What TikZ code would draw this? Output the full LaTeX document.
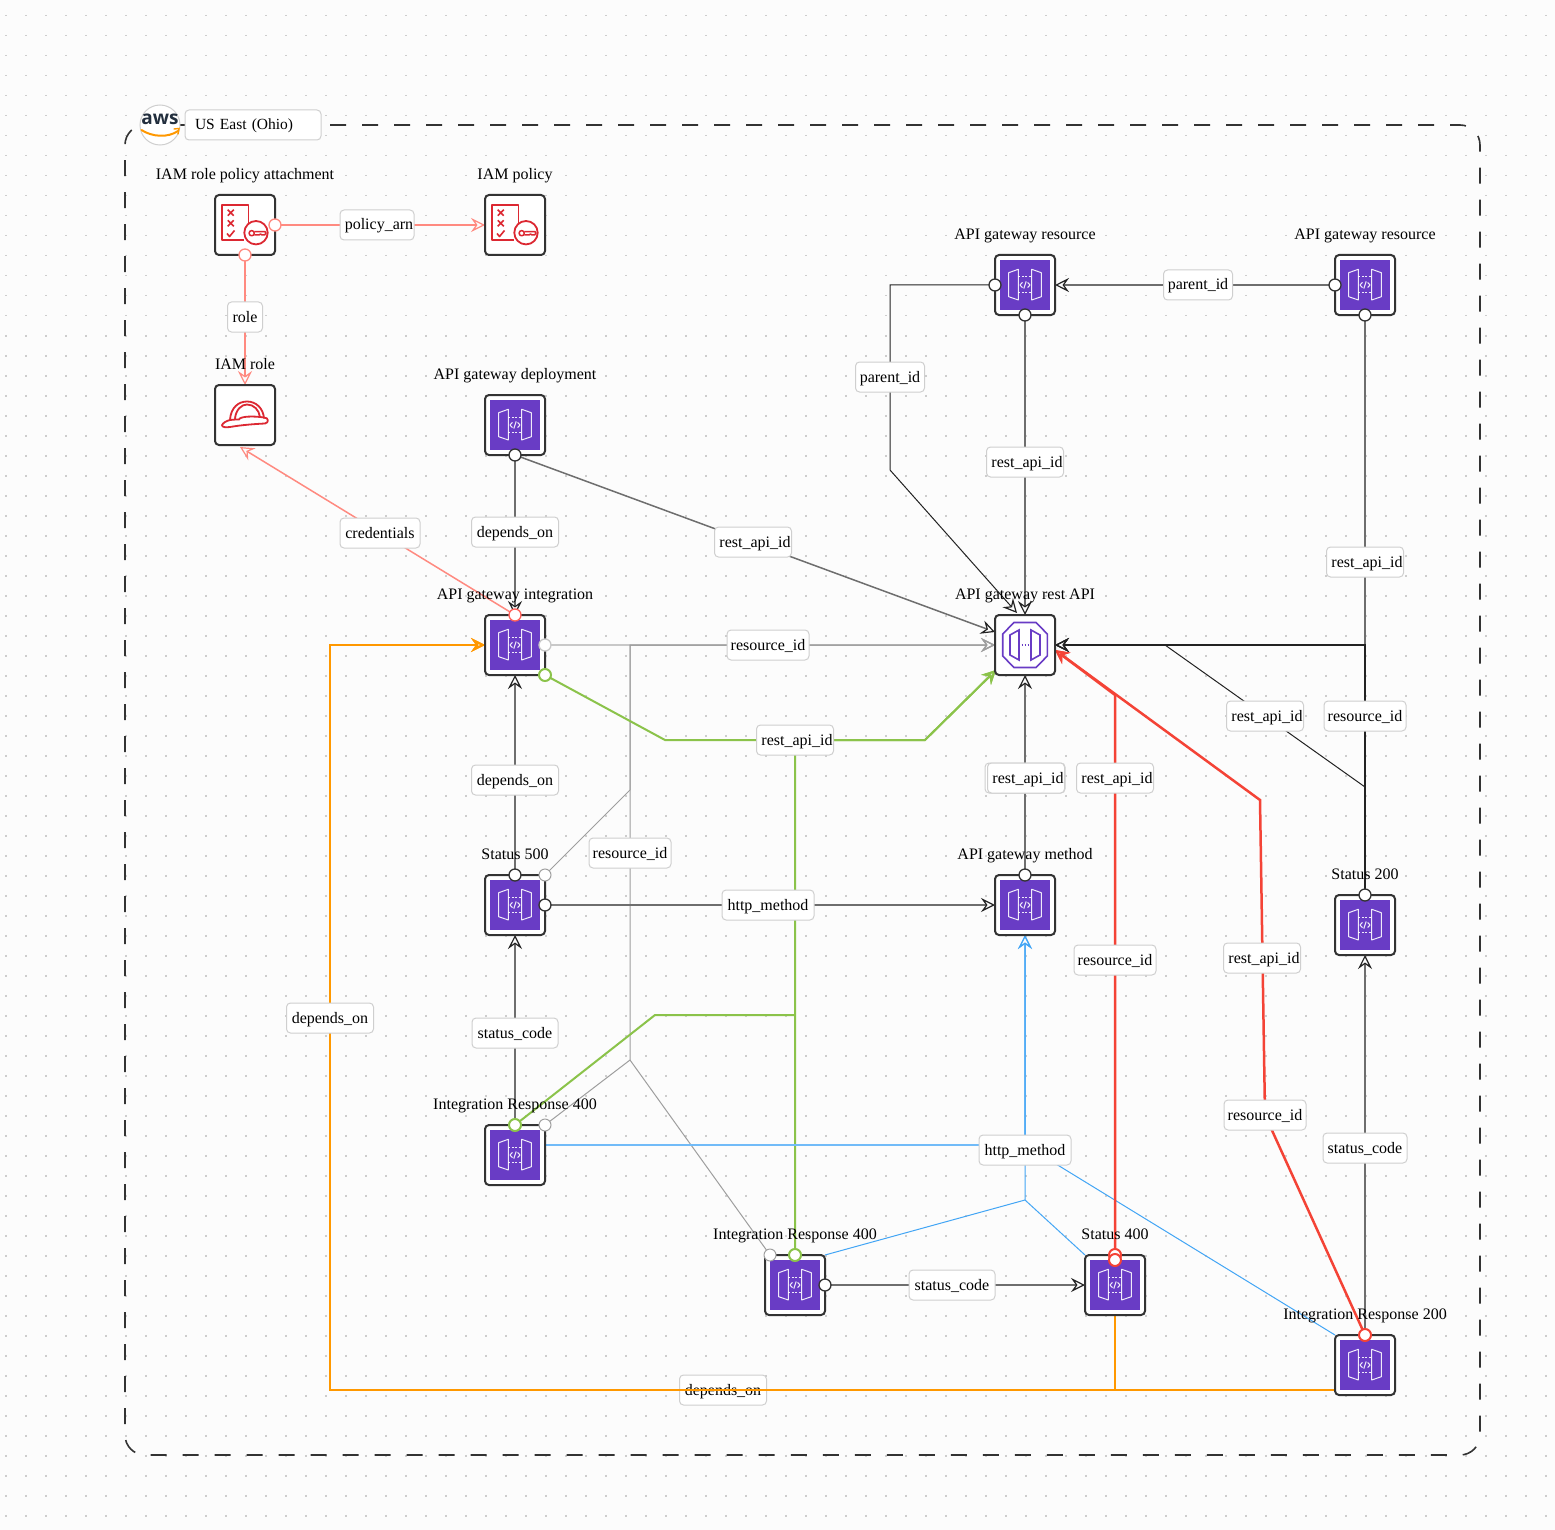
\documentclass[tikz,border=0pt]{standalone}
\usepackage{fontspec}
\setmainfont{Liberation Serif}
\newfontfamily\awsfont{Open Sans}
\usetikzlibrary{arrows.meta}
\pgfdeclarelayer{dots}
\pgfdeclarelayer{edges}
\pgfsetlayers{dots,edges,main}
\definecolor{bgc}{HTML}{FCFCFC}
\definecolor{dotc}{HTML}{CDCDCD}
\definecolor{boxc}{HTML}{333333}
\definecolor{lblc}{HTML}{CFCFCF}
\definecolor{apic}{HTML}{693CC5}
\definecolor{iamc}{HTML}{DC2832}
\definecolor{salm}{HTML}{FF8A80}
\definecolor{redc}{HTML}{F44336}
\definecolor{grnc}{HTML}{8BC34A}
\definecolor{orgc}{HTML}{FF9800}
\definecolor{bluc}{HTML}{42A5F5}
\definecolor{dgry}{HTML}{6E6E6E}
\definecolor{mgry}{HTML}{9E9E9E}
\definecolor{lgry}{HTML}{C8C8C8}
\definecolor{blkc}{HTML}{222222}
\definecolor{awsc}{HTML}{232F3E}
\tikzset{
  svc/.style={draw=boxc,line width=2pt,fill=white,rounded corners=4pt,minimum size=60pt,inner sep=0pt,outer sep=0pt},
  lbase/.style={draw=lblc,line width=1pt,fill=white,rounded corners=4pt,minimum height=30pt,inner xsep=0pt,inner ysep=0pt,outer sep=0pt,text height=13pt,text depth=3pt,font=\fontsize{16}{18}\selectfont,text=black},
  lbl/.style={lbase,minimum width=#1pt},
  lblk/.style={lbase,minimum width=#1pt,execute at begin node={\kern4pt}},
  capt/.style={inner sep=0pt,text height=14pt,text depth=3pt,font=\fontsize{16}{18}\selectfont,text=black},
  port/.style={circle,fill=white,draw=#1,line width=1.3pt,minimum size=12pt,inner sep=0pt,outer sep=0pt},
  tip/.style={-{Stealth[open,length=14pt,width=14pt,inset=5pt,line width=#1]}},
  tipk/.style={-{Stealth[open,length=14pt,width=14pt,inset=5pt,line width=1.2pt,color=blkc]}},
  esalm/.style={draw=salm,line width=1.5pt,tip=1.2pt},
  edark/.style={draw=dgry,line width=1.5pt,tipk},
  eblack/.style={draw=blkc,line width=1pt,tipk},
  eblackb/.style={draw=blkc,line width=1.6pt,tipk},
  elight/.style={draw=lgry,line width=1.5pt,tip=1.2pt},
  egrey/.style={draw=mgry,line width=1pt,tip=1.2pt},
  egreen/.style={draw=grnc,line width=2pt,tip=2pt},
  eblue/.style={draw=bluc,line width=1pt,tip=1.2pt},
  ered/.style={draw=redc,line width=2.5pt,tip=2.2pt},
  eorange/.style={draw=orgc,line width=2pt,tip=2pt},
  apigw/.pic={
    \fill[apic] (-25,-25) rectangle (25,25);
    \begin{scope}[draw=white,line width=1pt,line join=round,opacity=.9]
      \draw (-16.3,-12.3) -- (-6.7,-15.7) -- (-6.7,15) -- (-16.3,11.7) -- cycle;
      \draw (6.7,-15.7) -- (16.3,-12.3) -- (16.3,11.7) -- (6.7,15) -- cycle;
      \draw[dash pattern=on 2pt off 1.5pt] (-6.7,-8) -- (6.7,-8) (-6.7,7.5) -- (6.7,7.5);
      \draw (-2.6,-2.6) -- (-5,0) -- (-2.6,2.6) (2.6,-2.6) -- (5,0) -- (2.6,2.6) (1.2,-3.6) -- (-1.2,3.6);
    \end{scope}
  },
  iampol/.pic={
    \begin{scope}[draw=iamc,line width=1.6pt,line join=round]
      \draw (3.3,0) -- (3.3,-19.7) -- (-23,-19.7) -- (-23,15) -- (-1,15);
      \draw (-17.3,-15.3) -- (-11.3,-9.3) (-11.3,-15.3) -- (-17.3,-9.3);
      \draw (-17.3,-4.7) -- (-11.3,1.3) (-11.3,-4.7) -- (-17.3,1.3);
      \draw (-18,8.5) -- (-15.5,11.5) -- (-10.5,5.5);
      \draw[fill=white,line width=1.8pt] (11,7.7) circle (11.7);
      \draw[line width=1.5pt] (6.7,8.2) circle (2.6);
      \draw[line width=1.5pt] (9.3,6.6) -- (20,6.6) -- (21,8.3) -- (19.5,10) -- (17,10) -- (15.5,9) -- (14,10) -- (9.3,10);
    \end{scope}
  },
  iamrol/.pic={
    \begin{scope}[draw=iamc,line width=1.8pt,line join=round,line cap=round]
      \draw (-15,4.5) .. controls (-14,-8) and (-6,-13.5) .. (2,-13.5) .. controls (11,-13.5) and (18,-7) .. (19,3);
      \draw (-10,3.5) .. controls (-9,-6) and (-3,-10.5) .. (2,-10.5) .. controls (9,-10.5) and (14,-5) .. (15,2);
      \draw (-15,5) .. controls (-19,6) and (-22,8) .. (-23,10) .. controls (-23,12.5) and (-19,12.5) .. (-15,12)
         .. controls (-4,10) and (10,9) .. (20,8.5) .. controls (24,8) and (24,2.5) .. (19,2.5) .. controls (10,1) and (-5,1) .. (-6,4.5) .. controls (-8,4.5) and (-12,4.5) .. (-15,5);
    \end{scope}
  },
  restapi/.pic={
    \begin{scope}[draw=apic,line width=1.6pt,line join=miter]
      \draw (-11,-22.5) -- (11,-22.5) -- (22.3,-11) -- (22.3,11) -- (11,22.5) -- (-11,22.5) -- (-22.3,11) -- (-22.3,-11) -- cycle;
      \draw (-15,-10) -- (-6,-15) -- (-6,15) -- (-15,10) -- cycle;
      \draw (6,-15) -- (15,-10) -- (15,10) -- (6,15) -- cycle;
      \draw[line width=1.8pt,dash pattern=on 1.8pt off 1.2pt] (-3.4,0) -- (3.6,0);
    \end{scope}
  }
}
\begin{document}
\begin{tikzpicture}[x=1pt,y=-1pt]
\useasboundingbox (0,0) rectangle (1555,1530);
\begin{pgfonlayer}{dots}
  \fill[bgc] (0,0) rectangle (1555,1530);
  \foreach \i in {0,...,77} {
    \draw[dotc,line width=1.6pt,dash pattern=on 1.6pt off 18.4pt] ({5.7+20*\i},14.9) -- ({5.7+20*\i},1530);
  }
\end{pgfonlayer}

% region frame
\draw[draw=boxc,line width=1.6pt,rounded corners=20pt,dash pattern=on 16pt off 16pt,dash phase=7pt]
  (145,125) -- (1480,125) -- (1480,1455) -- (125,1455) -- (125,125) -- (145,125);
\draw[draw=boxc,line width=1.2pt] (181,125) -- (186,125);
\node[circle,draw=lblc,line width=1pt,fill=white,minimum size=40pt,inner sep=0pt] (awslogo) at (160,125) {};
\node[inner sep=0pt,text=awsc,font=\awsfont\bfseries\fontsize{19}{19}\selectfont] (awstext) at (160,119) {aws};
\draw[orgc,line width=2pt,line cap=round] (141.5,130) .. controls (152,137) and (168,138) .. (178,131);
\draw[orgc,line width=1.4pt,line cap=round] (174,129) -- (179,128.5) -- (178,134);
\node[lbase,minimum width=136pt,text width=116pt,align=left,font=\fontsize{15.5}{18}\selectfont] (region) at (253,125) {US East (Ohio)};

% services
\node[svc] (policyatt) at (245,225) {};
\node[svc] (iampolicy) at (515,225) {};
\node[svc] (iamrole) at (245,415) {};
\node[svc] (deploy) at (515,425) {};
\node[svc] (integ) at (515,645) {};
\node[svc] (rest) at (1025,645) {};
\node[svc] (res1) at (1025,285) {};
\node[svc] (res2) at (1365,285) {};
\node[svc] (st500) at (515,905) {};
\node[svc] (method) at (1025,905) {};
\node[svc] (st200) at (1365,925) {};
\node[svc] (irA) at (515,1155) {};
\node[svc] (irB) at (795,1285) {};
\node[svc] (st400) at (1115,1285) {};
\node[svc] (ir200) at (1365,1365) {};

\pic at (policyatt) {iampol};
\pic at (iampolicy) {iampol};
\pic at (iamrole) {iamrol};
\pic at (rest) {restapi};
\foreach \n in {deploy,integ,res1,res2,st500,method,st200,irA,irB,st400,ir200} { \pic at (\n) {apigw}; }

% ports
\node[port=salm] (paR) at (275,225) {};
\node[port=salm] (paB) at (245,255) {};
\node[port=boxc] (dpB) at (515,455) {};
\node[port=salm!70!red] (igT) at (515,615) {};
\node[port=lgry] (igR) at (545,645) {};
\node[port=grnc,line width=2pt] (igG) at (545,675) {};
\node[port=boxc] (r1L) at (995,285) {};
\node[port=boxc] (r1B) at (1025,315) {};
\node[port=boxc] (r2L) at (1335,285) {};
\node[port=boxc] (r2B) at (1365,315) {};
\node[port=boxc] (s5T) at (515,875) {};
\node[port=lgry!80!black,line width=1pt] (s5C) at (545,875) {};
\node[port=boxc] (s5R) at (545,905) {};
\node[port=boxc] (meT) at (1025,875) {};
\node[port=boxc] (s2T) at (1365,895) {};
\node[port=grnc,line width=2pt] (iaT) at (515,1125) {};
\node[port=lgry!80!black,line width=1pt] (iaC) at (545,1125) {};
\node[port=lgry!80!black,line width=1pt] (ibC) at (770,1255) {};
\node[port=grnc,line width=2pt] (ibT) at (795,1255) {};
\node[port=boxc] (ibR) at (825,1285) {};
\node[port=redc,line width=2pt] (s4Tb) at (1115,1255) {};
\node[port=redc,line width=2pt] (s4T) at (1115,1260) {};
\node[port=redc,line width=2pt] (i2T) at (1365,1335) {};

% bends and free ends
\coordinate (roleEnd) at (240,447);
\coordinate (depEnd) at (995,632);
\coordinate (parEnd) at (1017,613);
\coordinate (parA) at (890,285);
\coordinate (parB) at (890,470);
\coordinate (grnEnd) at (996,670);
\coordinate (redEnd) at (1055,650);
\coordinate (rA) at (1365,645);
\coordinate (rB) at (1165,645);
\coordinate (rC) at (1365,787);
\coordinate (gA) at (630,645);
\coordinate (gB) at (630,790);
\coordinate (gC) at (630,1060);
\coordinate (gnA) at (665,740);
\coordinate (gnB) at (925,740);
\coordinate (gnC) at (795,740);
\coordinate (gnD) at (795,1015);
\coordinate (gnE) at (655,1015);
\coordinate (reA) at (1115,695);
\coordinate (reB) at (1260,800);
\coordinate (reC) at (1265,1115);
\coordinate (blA) at (1025,1145);
\coordinate (blB) at (1025,1200);
\coordinate (blS) at (545,1145);
\coordinate (blI) at (825,1255);
\coordinate (blT) at (1085,1255);
\coordinate (blR) at (1335,1335);
\coordinate (orA) at (1115,1390);
\coordinate (orB) at (330,1390);
\coordinate (orC) at (330,645);
\coordinate (orS) at (1335,1390);

% connectors
\begin{pgfonlayer}{edges}
  \draw[esalm] (paR) -- (iampolicy.west);
  \draw[esalm] (paB) -- (iamrole.north);
  \draw[esalm] (igT) -- (roleEnd);
  \draw[edark] (dpB) -- (integ.north);
  \draw[edark] (dpB) -- (depEnd);
  \draw[eblack] (r1L) -- (parA) -- (parB) -- (parEnd);
  \draw[edark] (r1B) -- (rest.north);
  \draw[edark] (r2L) -- (res1.east);
  \draw[edark] (r2B) -- (rA) -- (rest.east);
  \draw[eblack] (s2T) -- (rC) -- (rB) -- (rest.east);
  \draw[eblackb] (s2T) -- (rA) -- (rest.east);
  \draw[elight] (igR) -- (rest.west);
  \draw[egrey] (s5C) -- (gB) -- (gA) -- (rest.west);
  \draw[egrey] (iaC) -- (gC) -- (gA) -- (rest.west);
  \draw[egrey,-] (ibC) -- (gC);
  \draw[egreen] (igG) -- (gnA) -- (gnB) -- (grnEnd);
  \draw[egreen] (ibT) -- (gnC) -- (gnB) -- (grnEnd);
  \draw[egreen,-] (iaT) -- (gnE) -- (gnD);
  \draw[edark] (s5T) -- (integ.south);
  \draw[edark] (s5R) -- (method.west);
  \draw[edark] (meT) -- (rest.south);
  \draw[edark] (iaT) -- (st500.south);
  \draw[edark] (i2T) -- (st200.south);
  \draw[edark] (ibR) -- (st400.west);
  \draw[eblue,line width=1.4pt,bluc!75!white] (blS) -- (blA) -- (method.south);
  \draw[eblue] (blI) -- (blB) -- (method.south);
  \draw[eblue,-] (blT) -- (blB);
  \draw[eblue,-] (blR) -- (blA);
  \draw[ered] (s4T) -- (reA) -- (redEnd);
  \draw[ered] (i2T) -- (reC) -- (reB) -- (redEnd);
  \node[lbl=87] (lDepC) at (723,1390) {depends\_on};
  \draw[eorange] (st400.south) -- (orA) -- (orB) -- (orC) -- (integ.west);
  \draw[eorange] (orS) -- (orB) -- (orC) -- (integ.west);
\end{pgfonlayer}

% connector labels
\node[lblk=74] (lPol) at (377,225) {policy\_arn};
\node[lbl=35] (lRole) at (245,317) {role};
\node[lbl=80] (lCred) at (380,533) {credentials};
\node[lbl=87] (lDepA) at (515,532) {depends\_on};
\node[lblk=77] (lRa) at (753,542) {rest\_api\_id};
\node[lbl=69] (lParA) at (890,377) {parent\_id};
\node[lblk=77] (lRb) at (1025,462) {rest\_api\_id};
\node[lbl=69] (lParB) at (1198,285) {parent\_id};
\node[lblk=77] (lRc) at (1365,562) {rest\_api\_id};
\node[lblk=77] (lRd) at (1265,716) {rest\_api\_id};
\node[lbl=82] (lResA) at (1365,716) {resource\_id};
\node[lbl=82] (lResB) at (768,645) {resource\_id};
\node[lblk=77] (lRe) at (795,740) {rest\_api\_id};
\node[lbl=87] (lDepB) at (515,780) {depends\_on};
\node[lblk=80] (lRf2) at (1025,778) {rest\_api\_id};
\node[lblk=77] (lRf) at (1026,778) {rest\_api\_id};
\node[lblk=77] (lRg) at (1115,778) {rest\_api\_id};
\node[lbl=82] (lResC) at (630,853) {resource\_id};
\node[lbl=92] (lHa) at (768,905) {http\_method};
\node[lbl=82] (lResD) at (1115,960) {resource\_id};
\node[lblk=77] (lRh) at (1262,958) {rest\_api\_id};
\node[lbl=87] (lDepD) at (330,1018) {depends\_on};
\node[lbl=86] (lScA) at (515,1033) {status\_code};
\node[lbl=82] (lResE) at (1265,1115) {resource\_id};
\node[lbl=84] (lScB) at (1365,1148) {status\_code};
\node[lbl=92] (lHb) at (1025,1150) {http\_method};
\node[lbl=86] (lScC) at (952,1285) {status\_code};

% captions
\node[capt] (cA) at (245,174) {IAM role policy attachment};
\node[capt] (cB) at (515,174) {IAM policy};
\node[capt] (cC) at (245,364) {IAM role};
\node[capt] (cD) at (515,374) {API gateway deployment};
\node[capt] (cE) at (515,594) {API gateway integration};
\node[capt] (cF) at (1025,594) {API gateway rest API};
\node[capt] (cG) at (1025,234) {API gateway resource};
\node[capt] (cH) at (1365,234) {API gateway resource};
\node[capt] (cI) at (515,854) {Status 500};
\node[capt] (cJ) at (1025,854) {API gateway method};
\node[capt] (cK) at (1365,874) {Status 200};
\node[capt] (cL) at (515,1104) {Integration Response 400};
\node[capt] (cM) at (795,1234) {Integration Response 400};
\node[capt] (cN) at (1115,1234) {Status 400};
\node[capt] (cO) at (1365,1314) {Integration Response 200};
\end{tikzpicture}
\end{document}
